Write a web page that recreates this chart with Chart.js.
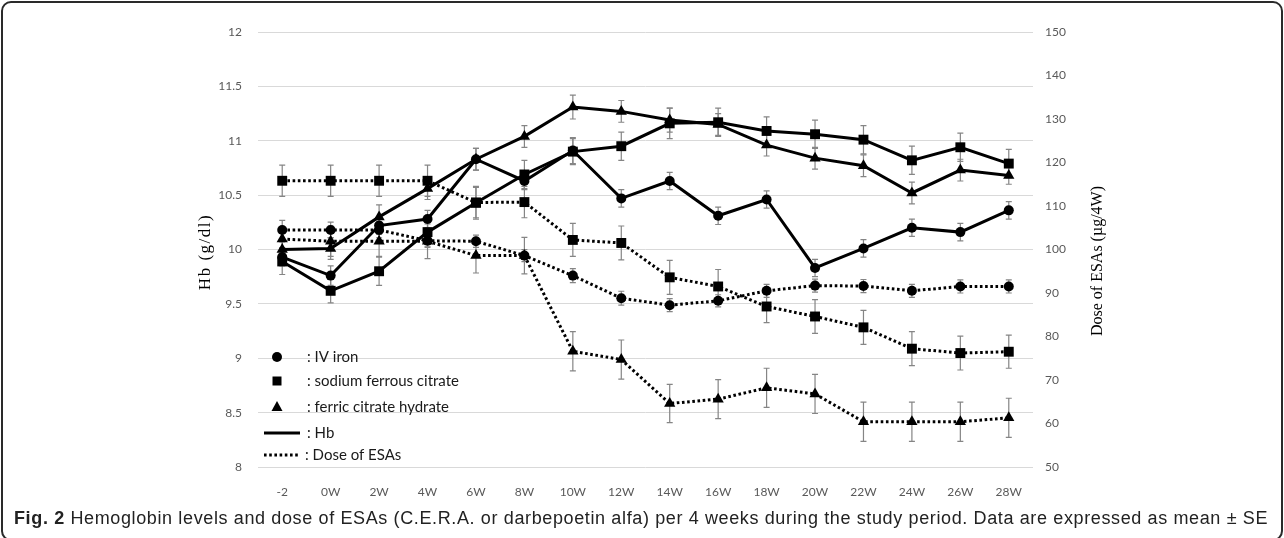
<!DOCTYPE html>
<html>
<head>
<meta charset="utf-8">
<script src="https://cdn.jsdelivr.net/npm/chart.js@4.4.0/dist/chart.umd.min.js"></script>
<style>
  html, body { margin: 0; padding: 0; background: #fff; }
  body { width: 1284px; height: 538px; position: relative; overflow: hidden; }
  #frame { position: absolute; left: 1px; top: 1px; width: 1282px; height: 540px; border: 2px solid #2a2a2a; border-radius: 10px; box-sizing: border-box; }
  #wrap { position: absolute; left: 0; top: 0; width: 1284px; height: 538px; }
  #caption { position: absolute; left: 14px; top: 508px; font-family: "Liberation Sans", Arial, sans-serif; font-size: 18px; line-height: 21px; color: #222; white-space: nowrap; }
  #caption b { font-weight: bold; }
</style>
</head>
<body>
<div id="frame"></div>
<div id="wrap"><canvas id="c" width="1284" height="538"></canvas></div>
<div id="caption"><b>Fig. 2</b> Hemoglobin levels and dose of ESAs (C.E.R.A. or darbepoetin alfa) per 4 weeks during the study period. Data are expressed as mean ± SE</div>
<script>
// ---- Data ----
const categories = ['-2','0W','2W','4W','6W','8W','10W','12W','14W','16W','18W','20W','22W','24W','26W','28W'];

// Hb (g/dl), left axis
const hbIVIron      = [9.93, 9.76, 10.22, 10.28, 10.83, 10.63, 10.91, 10.47, 10.63, 10.31, 10.46, 9.83, 10.01, 10.20, 10.16, 10.36];
const hbIVIronSE    = [0.08, 0.09, 0.08, 0.08, 0.10, 0.08, 0.12, 0.08, 0.08, 0.08, 0.08, 0.08, 0.08, 0.08, 0.08, 0.08];
const hbSodium      = [9.89, 9.62, 9.80, 10.16, 10.43, 10.69, 10.90, 10.95, 11.16, 11.17, 11.09, 11.06, 11.01, 10.82, 10.94, 10.79];
const hbSodiumSE    = [0.12, 0.11, 0.13, 0.13, 0.15, 0.13, 0.12, 0.13, 0.14, 0.13, 0.13, 0.13, 0.13, 0.13, 0.13, 0.13];
const hbFerric      = [10.00, 10.01, 10.30, 10.56, 10.83, 11.04, 11.31, 11.27, 11.19, 11.15, 10.96, 10.84, 10.77, 10.52, 10.73, 10.68];
const hbFerricSE    = [0.07, 0.10, 0.11, 0.10, 0.10, 0.10, 0.11, 0.10, 0.11, 0.10, 0.10, 0.10, 0.10, 0.10, 0.10, 0.08];

// Dose of ESAs (µg/4W), right axis
const doseIVIron    = [104.5, 104.5, 104.5, 102.0, 101.9, 98.6, 94.0, 88.8, 87.2, 88.2, 90.5, 91.7, 91.6, 90.5, 91.5, 91.5];
const doseIVIronSE  = [2.2, 1.8, 1.8, 1.5, 1.4, 1.4, 1.6, 1.6, 1.5, 1.4, 1.5, 1.5, 1.5, 1.5, 1.5, 1.5];
const doseSodium    = [115.8, 115.8, 115.8, 115.8, 110.8, 110.9, 102.2, 101.5, 93.6, 91.5, 86.9, 84.6, 82.1, 77.2, 76.2, 76.5];
const doseSodiumSE  = [3.6, 3.6, 3.6, 3.6, 3.5, 3.6, 3.8, 3.9, 3.9, 3.9, 3.7, 3.9, 3.9, 3.9, 3.9, 3.8];
const doseFerric    = [102.4, 101.9, 101.9, 101.9, 98.6, 98.6, 76.6, 74.7, 64.6, 65.6, 68.2, 66.8, 60.4, 60.4, 60.4, 61.3];
const doseFerricSE  = [2.0, 3.5, 3.5, 4.0, 4.0, 4.2, 4.5, 4.5, 4.4, 4.5, 4.5, 4.5, 4.5, 4.5, 4.5, 4.5];

const leftTicks  = [8, 8.5, 9, 9.5, 10, 10.5, 11, 11.5, 12];
const leftTickLabels = ['8', '8.5', '9', '9.5', '10', '10.5', '11', '11.5', '12'];
const rightTicks = [50, 60, 70, 80, 90, 100, 110, 120, 130, 140, 150];

const legendItems = [
  { kind: 'circle',   label: ': IV iron' },
  { kind: 'rect',     label: ': sodium ferrous citrate' },
  { kind: 'triangle', label: ': ferric citrate hydrate' },
  { kind: 'solid',    label: ': Hb' },
  { kind: 'dotted',   label: ': Dose of ESAs' }
];

// ---- Styles ----
const BLACK = '#000';
const SOLID_W = 3;
const DOT_W = 3;
const DOT_DASH = [2.6, 2.6];
const shapeRadius = { circle: 5, rect: 7, triangle: 6.5 };

function ds(label, data, se, axis, shape, dotted) {
  return {
    label, data, se, yAxisID: axis,
    borderColor: BLACK, backgroundColor: BLACK,
    borderWidth: dotted ? DOT_W : SOLID_W,
    borderDash: dotted ? DOT_DASH : [],
    borderCapStyle: 'butt',
    tension: 0,
    pointStyle: shape,
    pointRadius: shapeRadius[shape],
    pointBorderWidth: 0,
    pointBackgroundColor: BLACK,
    pointBorderColor: BLACK,
    fill: false
  };
}

const errorBarPlugin = {
  id: 'errorBars',
  beforeDatasetsDraw(chart) {
    const ctx = chart.ctx;
    const xs = chart.scales.x;
    ctx.save();
    ctx.strokeStyle = '#858585';
    ctx.lineWidth = 1.2;
    chart.data.datasets.forEach((d) => {
      const ys = chart.scales[d.yAxisID];
      d.data.forEach((v, i) => {
        const e = d.se[i];
        const x = xs.getPixelForValue(i);
        const y1 = ys.getPixelForValue(v - e);
        const y2 = ys.getPixelForValue(v + e);
        ctx.beginPath();
        ctx.moveTo(x, y1); ctx.lineTo(x, y2);
        ctx.moveTo(x - 3, y1); ctx.lineTo(x + 3, y1);
        ctx.moveTo(x - 3, y2); ctx.lineTo(x + 3, y2);
        ctx.stroke();
      });
    });
    ctx.restore();
  }
};

function drawShape(ctx, kind, x, y) {
  ctx.fillStyle = BLACK;
  ctx.beginPath();
  if (kind === 'circle') {
    ctx.arc(x, y, 5, 0, Math.PI * 2);
  } else if (kind === 'rect') {
    ctx.rect(x - 4.5, y - 4.5, 9, 9);
  } else if (kind === 'triangle') {
    ctx.moveTo(x, y - 6);
    ctx.lineTo(x + 5.5, y + 4);
    ctx.lineTo(x - 5.5, y + 4);
    ctx.closePath();
  }
  ctx.fill();
}

const overlayPlugin = {
  id: 'overlay',
  afterDraw(chart) {
    const ctx = chart.ctx;
    const a = chart.chartArea;
    ctx.save();
    // Legend inside plot
    const rowsY = [357, 381, 407, 433, 455];
    ctx.font = '15px Lato, "Open Sans", sans-serif';
    ctx.textBaseline = 'middle';
    ctx.textAlign = 'left';
    legendItems.forEach((it, i) => {
      const y = rowsY[i];
      const mx = a.left + 19;
      if (it.kind === 'solid') {
        ctx.strokeStyle = BLACK; ctx.lineWidth = SOLID_W; ctx.setLineDash([]);
        ctx.beginPath(); ctx.moveTo(a.left + 6, y); ctx.lineTo(a.left + 42, y); ctx.stroke();
      } else if (it.kind === 'dotted') {
        ctx.strokeStyle = BLACK; ctx.lineWidth = DOT_W; ctx.setLineDash(DOT_DASH);
        ctx.beginPath(); ctx.moveTo(a.left + 6, y); ctx.lineTo(a.left + 42, y); ctx.stroke();
        ctx.setLineDash([]);
      } else {
        drawShape(ctx, it.kind, mx, y);
      }
      ctx.fillStyle = '#1a1a1a';
      ctx.fillText(it.label, it.kind === 'dotted' ? a.left + 47 : a.left + 49, y);
    });
    // Axis titles (both read bottom-to-top)
    ctx.fillStyle = '#000';
    ctx.textAlign = 'center';
    ctx.textBaseline = 'middle';
    ctx.save();
    ctx.font = '17px "Liberation Serif", "Times New Roman", serif';
    ctx.letterSpacing = '1.5px';
    ctx.translate(206, 252);
    ctx.rotate(-Math.PI / 2);
    ctx.fillText('Hb (g/dl)', 0, 0);
    ctx.restore();
    ctx.save();
    ctx.font = '16px "Liberation Serif", "Times New Roman", serif';
    ctx.translate(1098, 261);
    ctx.rotate(-Math.PI / 2);
    ctx.fillText('Dose of ESAs (µg/4W)', 0, 0);
    ctx.restore();
    ctx.restore();
  }
};

const tickFont = { family: 'Lato, "Open Sans", sans-serif', size: 12 };
const tickColor = '#595959';

new Chart(document.getElementById('c'), {
  type: 'line',
  data: {
    labels: categories,
    datasets: [
      ds('Dose IV iron', doseIVIron, doseIVIronSE, 'y1', 'circle', true),
      ds('Dose sodium ferrous citrate', doseSodium, doseSodiumSE, 'y1', 'rect', true),
      ds('Dose ferric citrate hydrate', doseFerric, doseFerricSE, 'y1', 'triangle', true),
      ds('Hb IV iron', hbIVIron, hbIVIronSE, 'y', 'circle', false),
      ds('Hb sodium ferrous citrate', hbSodium, hbSodiumSE, 'y', 'rect', false),
      ds('Hb ferric citrate hydrate', hbFerric, hbFerricSE, 'y', 'triangle', false)
    ]
  },
  options: {
    responsive: false,
    animation: false,
    devicePixelRatio: 1,
    layout: { padding: { top: 32, left: 0, right: 0, bottom: 0 } },
    plugins: { legend: { display: false }, tooltip: { enabled: false } },
    scales: {
      x: {
        type: 'category',
        offset: true,
        grid: { display: false, drawTicks: false },
        border: { display: false },
        ticks: { font: tickFont, color: tickColor, padding: 18, autoSkip: false, maxRotation: 0 },
        afterFit(s) { s.height = 71; }
      },
      y: {
        position: 'left',
        min: 8, max: 12,
        afterBuildTicks(s) { s.ticks = leftTicks.map(v => ({ value: v })); },
        grid: { color: '#d9d9d9', lineWidth: 1, drawTicks: false },
        border: { display: false },
        ticks: {
          font: tickFont, color: tickColor, padding: 16,
          callback: (v) => leftTickLabels[leftTicks.indexOf(v)]
        },
        afterFit(s) { s.width = 258; }
      },
      y1: {
        position: 'right',
        min: 50, max: 150,
        afterBuildTicks(s) { s.ticks = rightTicks.map(v => ({ value: v })); },
        grid: { display: false, drawTicks: false },
        border: { display: false },
        ticks: { font: tickFont, color: tickColor, padding: 12, callback: (v) => String(v) },
        afterFit(s) { s.width = 251; }
      }
    }
  },
  plugins: [errorBarPlugin, overlayPlugin]
});

// Fit caption to the width it spans in the figure
(function () {
  const cap = document.getElementById('caption');
  const target = 1254;
  const w = cap.getBoundingClientRect().width;
  const n = cap.textContent.length;
  cap.style.letterSpacing = ((target - w) / n).toFixed(3) + 'px';
})();
</script>
</body>
</html>
